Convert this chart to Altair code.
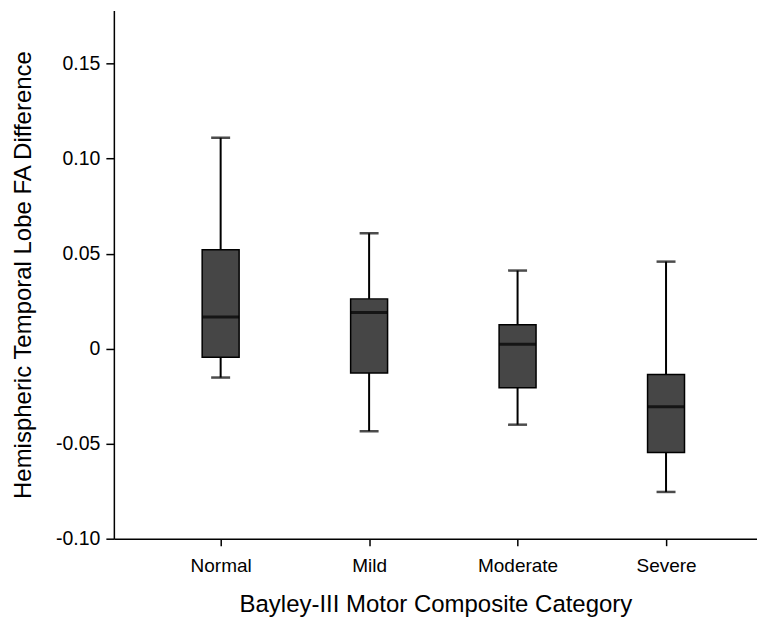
import altair as alt
import pandas as pd

categories = ["Normal", "Mild", "Moderate", "Severe"]
whisker_low = [-0.0152, -0.0434, -0.0400, -0.0754]
q1 = [-0.0045, -0.0128, -0.0206, -0.0546]
median = [0.0166, 0.0190, 0.0023, -0.0306]
q3 = [0.0520, 0.0262, 0.0126, -0.0136]
whisker_high = [0.1110, 0.0607, 0.0411, 0.0458]
y_ticks = [-0.10, -0.05, 0.0, 0.05, 0.10, 0.15]

df = pd.DataFrame({
    "cat": categories,
    "lo": whisker_low,
    "q1": q1,
    "med": median,
    "q3": q3,
    "hi": whisker_high,
})

FONT = "Liberation Sans"

x = alt.X("cat:N", sort=categories,
          scale=alt.Scale(type="point", padding=0.666, align=0.54),
          axis=alt.Axis(title="Bayley-III Motor Composite Category", labelAngle=0,
                        tickSize=7, tickColor="black", tickWidth=1.5,
                        domainColor="black", domainWidth=1.5,
                        labelFontSize=19, labelColor="black", labelPadding=11,
                        titleFontSize=24, titleFontWeight="normal", titleColor="black",
                        titlePadding=17, labelFont=FONT, titleFont=FONT, grid=False))

yscale = alt.Scale(domain=[-0.10, 0.178], nice=False, zero=False)

base = alt.Chart(df)

whisk_lo = base.mark_rule(color="black", strokeWidth=2).encode(
    x=x, y=alt.Y("lo:Q", scale=yscale,
                 axis=alt.Axis(title="Hemispheric Temporal Lobe FA Difference",
                               values=y_ticks,
                               labelExpr="datum.value == 0 ? '0' : (datum.value < 0 ? '-' : '') + format(abs(datum.value), '.2f')",
                               tickSize=8, tickColor="black", tickWidth=1.5,
                               domainColor="black", domainWidth=1.5,
                               labelFontSize=19.5, labelColor="black", labelPadding=6,
                               titleFontSize=24, titleFontWeight="normal", titleColor="black",
                               titlePadding=20, labelFont=FONT, titleFont=FONT, grid=False)),
    y2="q1:Q")
whisk_hi = base.mark_rule(color="black", strokeWidth=2).encode(
    x=x, y=alt.Y("q3:Q", scale=yscale), y2="hi:Q")
box = base.mark_bar(size=37, color="#464646", stroke="black", strokeWidth=1.5).encode(
    x=x, y=alt.Y("q1:Q", scale=yscale), y2="q3:Q")
med = base.mark_tick(size=37, thickness=3, color="black").encode(
    x=x, y=alt.Y("med:Q", scale=yscale))
cap_lo = base.mark_tick(size=19, thickness=2.5, color="black").encode(
    x=x, y=alt.Y("lo:Q", scale=yscale))
cap_hi = base.mark_tick(size=19, thickness=2.5, color="black").encode(
    x=x, y=alt.Y("hi:Q", scale=yscale))

chart = alt.layer(whisk_lo, whisk_hi, box, med, cap_lo, cap_hi).properties(
    width=644, height=529,
    padding={"left": 3, "top": 2, "right": 0, "bottom": 0},
    background="white",
).configure_view(stroke=None)

chart.save("out.html", embed_options={"renderer": "svg", "actions": False})
